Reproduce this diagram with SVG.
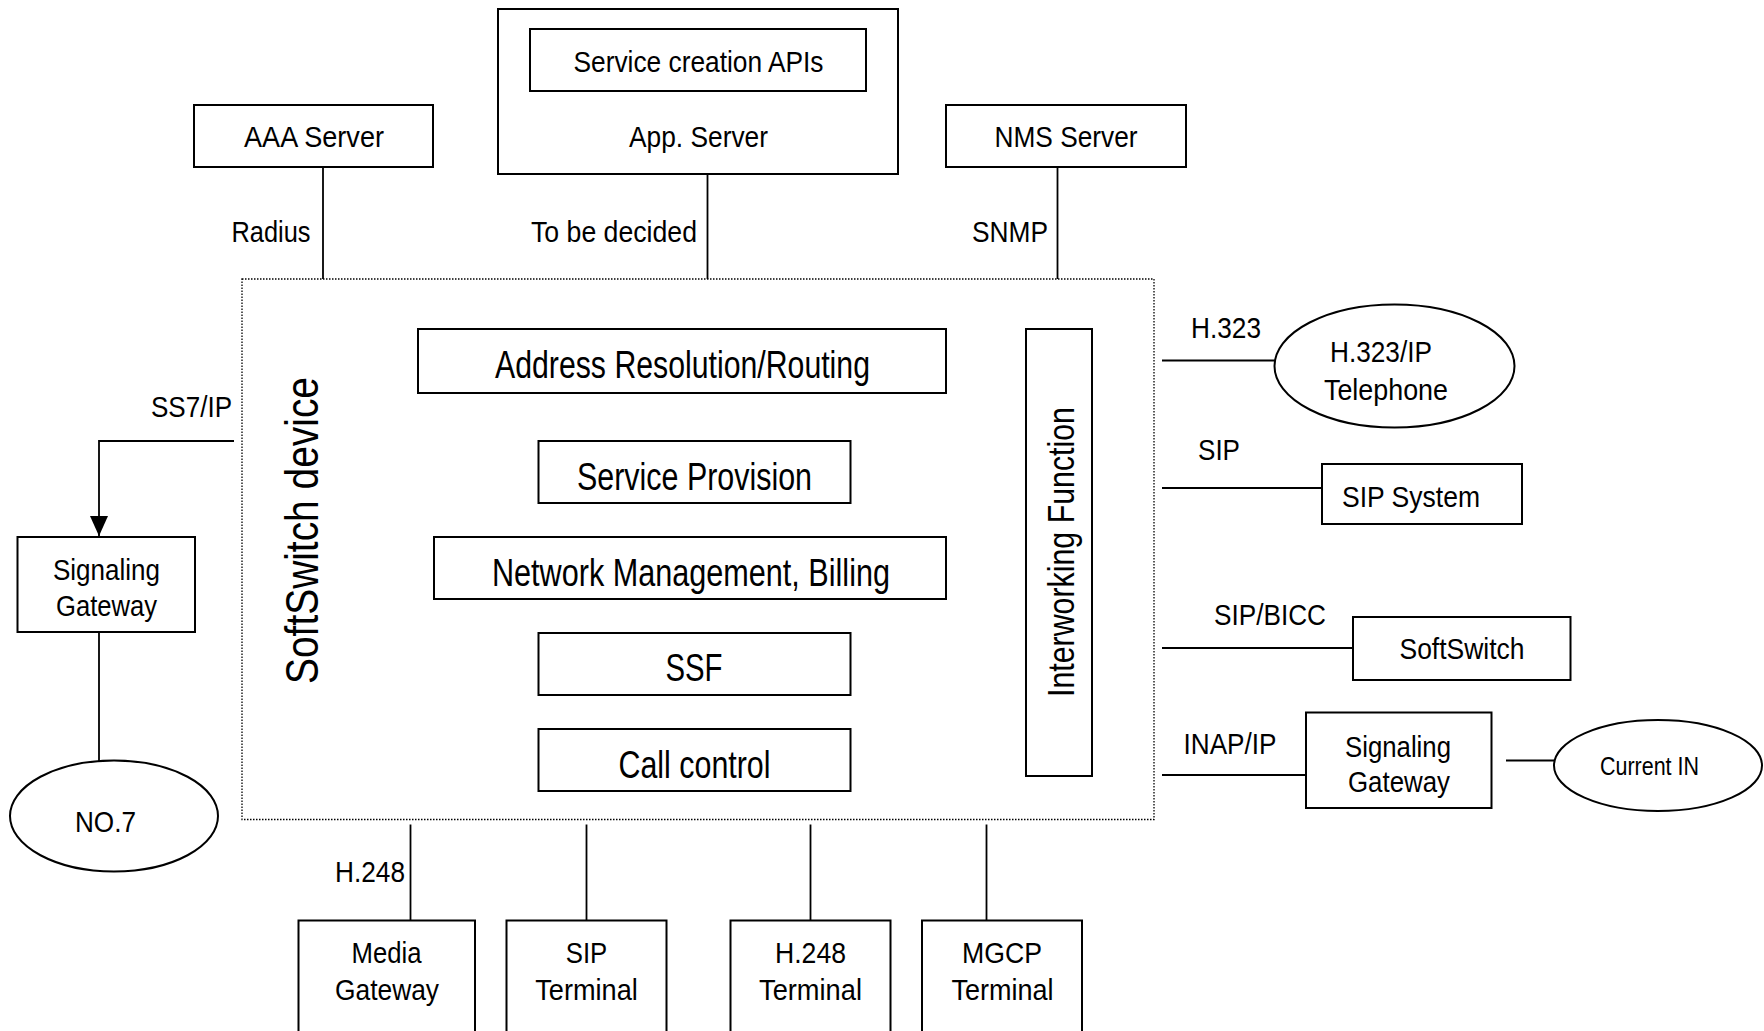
<svg xmlns="http://www.w3.org/2000/svg" width="1764" height="1031" viewBox="0 0 1764 1031">
  <defs>
    <marker id="arrow" viewBox="0 0 20 20" refX="20" refY="10" markerWidth="20" markerHeight="20" markerUnits="userSpaceOnUse" orient="auto">
      <path d="M0,1 L20,10 L0,19 Z" fill="#000"/>
    </marker>
    <style>
      .box { fill: #fff; stroke: #000; stroke-width: 2; }
      .oval { fill: #fff; stroke: #000; stroke-width: 2; }
      .frame { fill: none; stroke: #000; stroke-width: 1.3; stroke-dasharray: 1.5 1.5; }
      .wire { fill: none; stroke: #000; stroke-width: 1.8; }
      text { font-family: "Liberation Sans", Arial, sans-serif; fill: #000; }
      .lbl { font-size: 30px; text-anchor: middle; }
      .big { font-size: 38px; text-anchor: middle; }
      .sm { font-size: 25px; text-anchor: middle; }
      .rot { text-anchor: middle; }
    </style>
  </defs>
  <rect width="1764" height="1031" fill="#fff"/>

  <!-- connectors -->
  <g id="connectors">
    <line class="wire" x1="323" y1="166.5" x2="323" y2="279"/>
    <line class="wire" x1="707.5" y1="174" x2="707.5" y2="279"/>
    <line class="wire" x1="1057.5" y1="166.5" x2="1057.5" y2="279"/>
    <polyline class="wire" points="234,441 99,441 99,536" marker-end="url(#arrow)"/>
    <line class="wire" x1="99" y1="632" x2="99" y2="761"/>
    <line class="wire" x1="1162" y1="360.5" x2="1274.5" y2="360.5"/>
    <line class="wire" x1="1162" y1="488" x2="1322" y2="488"/>
    <line class="wire" x1="1162" y1="648" x2="1353" y2="648"/>
    <line class="wire" x1="1162" y1="775" x2="1305" y2="775"/>
    <line class="wire" x1="1506" y1="760.5" x2="1554" y2="760.5"/>
    <line class="wire" x1="410.5" y1="824.5" x2="410.5" y2="920"/>
    <line class="wire" x1="586.5" y1="824.5" x2="586.5" y2="920"/>
    <line class="wire" x1="810.5" y1="824.5" x2="810.5" y2="920"/>
    <line class="wire" x1="986.5" y1="824.5" x2="986.5" y2="920"/>
    <!-- interface labels -->
    <text class="lbl" x="271" y="241.5" textLength="79" lengthAdjust="spacingAndGlyphs">Radius</text>
    <text class="lbl" x="614" y="241.5" textLength="166" lengthAdjust="spacingAndGlyphs">To be decided</text>
    <text class="lbl" x="1010" y="241.5" textLength="76" lengthAdjust="spacingAndGlyphs">SNMP</text>
    <text class="lbl" x="191.5" y="416.5" textLength="81" lengthAdjust="spacingAndGlyphs">SS7/IP</text>
    <text class="lbl" x="1226" y="337.5" textLength="70" lengthAdjust="spacingAndGlyphs">H.323</text>
    <text class="lbl" x="1219" y="460" textLength="42" lengthAdjust="spacingAndGlyphs">SIP</text>
    <text class="lbl" x="1270" y="625" textLength="112" lengthAdjust="spacingAndGlyphs">SIP/BICC</text>
    <text class="lbl" x="1230" y="753.5" textLength="93" lengthAdjust="spacingAndGlyphs">INAP/IP</text>
    <text class="lbl" x="370" y="881.5" textLength="70" lengthAdjust="spacingAndGlyphs">H.248</text>
  </g>

  <!-- servers above the switch -->
  <g id="aaa-server">
    <rect class="box" x="194" y="105" width="239" height="62"/>
    <text class="lbl" x="314" y="147" textLength="140" lengthAdjust="spacingAndGlyphs">AAA Server</text>
  </g>
  <g id="app-server">
    <rect class="box" x="498" y="9" width="400" height="165"/>
    <text class="lbl" x="698.5" y="147" textLength="139" lengthAdjust="spacingAndGlyphs">App. Server</text>
  </g>
  <g id="service-creation-apis">
    <rect class="box" x="530" y="29" width="336" height="62"/>
    <text class="lbl" x="698.5" y="72" textLength="250" lengthAdjust="spacingAndGlyphs">Service creation APIs</text>
  </g>
  <g id="nms-server">
    <rect class="box" x="946" y="105" width="240" height="62"/>
    <text class="lbl" x="1066" y="147" textLength="143" lengthAdjust="spacingAndGlyphs">NMS Server</text>
  </g>

  <!-- softswitch device -->
  <g id="softswitch-device">
    <rect class="frame" x="242" y="279" width="912" height="540.5"/>
    <text class="rot" transform="translate(318,530.5) rotate(-90)" font-size="46" textLength="307" lengthAdjust="spacingAndGlyphs">SoftSwitch device</text>
  </g>
  <g id="address-resolution">
    <rect class="box" x="418" y="329" width="528" height="64"/>
    <text class="big" x="682.5" y="378" textLength="375" lengthAdjust="spacingAndGlyphs">Address Resolution/Routing</text>
  </g>
  <g id="service-provision">
    <rect class="box" x="538.5" y="441" width="312" height="62"/>
    <text class="big" x="694.5" y="489.5" textLength="235" lengthAdjust="spacingAndGlyphs">Service Provision</text>
  </g>
  <g id="network-management">
    <rect class="box" x="434" y="537" width="512" height="62"/>
    <text class="big" x="691" y="585.5" textLength="398" lengthAdjust="spacingAndGlyphs">Network Management, Billing</text>
  </g>
  <g id="ssf">
    <rect class="box" x="538.5" y="633" width="312" height="62"/>
    <text class="big" x="694" y="680.5" textLength="57" lengthAdjust="spacingAndGlyphs">SSF</text>
  </g>
  <g id="call-control">
    <rect class="box" x="538.5" y="729" width="312" height="62"/>
    <text class="big" x="694.5" y="777.5" textLength="152" lengthAdjust="spacingAndGlyphs">Call control</text>
  </g>
  <g id="interworking-function">
    <rect class="box" x="1026" y="329" width="66" height="447"/>
    <text class="rot" transform="translate(1074,552) rotate(-90)" font-size="36" textLength="290" lengthAdjust="spacingAndGlyphs">Interworking Function</text>
  </g>

  <!-- left side -->
  <g id="signaling-gateway-left">
    <rect class="box" x="17.5" y="537" width="177.5" height="95"/>
    <text class="lbl" x="106.5" y="580" textLength="107" lengthAdjust="spacingAndGlyphs">Signaling</text>
    <text class="lbl" x="106.5" y="615.5" textLength="101" lengthAdjust="spacingAndGlyphs">Gateway</text>
  </g>
  <g id="no7">
    <ellipse class="oval" cx="114" cy="816" rx="104" ry="55.5"/>
    <text class="lbl" x="105.5" y="832" textLength="61" lengthAdjust="spacingAndGlyphs">NO.7</text>
  </g>

  <!-- right side -->
  <g id="h323-telephone">
    <ellipse class="oval" cx="1394.5" cy="366" rx="120" ry="61.5"/>
    <text class="lbl" x="1381" y="362" textLength="102" lengthAdjust="spacingAndGlyphs">H.323/IP</text>
    <text class="lbl" x="1386" y="400" textLength="124" lengthAdjust="spacingAndGlyphs">Telephone</text>
  </g>
  <g id="sip-system">
    <rect class="box" x="1322" y="464" width="200" height="60"/>
    <text class="lbl" x="1411" y="507" textLength="138" lengthAdjust="spacingAndGlyphs">SIP System</text>
  </g>
  <g id="softswitch-peer">
    <rect class="box" x="1353" y="617" width="217.5" height="63"/>
    <text class="lbl" x="1462" y="659" textLength="125" lengthAdjust="spacingAndGlyphs">SoftSwitch</text>
  </g>
  <g id="signaling-gateway-right">
    <rect class="box" x="1306" y="712.5" width="185.5" height="95.5"/>
    <text class="lbl" x="1398" y="756.5" textLength="106" lengthAdjust="spacingAndGlyphs">Signaling</text>
    <text class="lbl" x="1399" y="791.5" textLength="102" lengthAdjust="spacingAndGlyphs">Gateway</text>
  </g>
  <g id="current-in">
    <ellipse class="oval" cx="1658" cy="765.5" rx="104" ry="45.5"/>
    <text class="sm" x="1649.5" y="774.5" textLength="99" lengthAdjust="spacingAndGlyphs">Current IN</text>
  </g>

  <!-- bottom terminals -->
  <g id="media-gateway">
    <rect class="box" x="298.5" y="920.5" width="176.5" height="130"/>
    <text class="lbl" x="386.5" y="962.5" textLength="70" lengthAdjust="spacingAndGlyphs">Media</text>
    <text class="lbl" x="387" y="1000" textLength="104" lengthAdjust="spacingAndGlyphs">Gateway</text>
  </g>
  <g id="sip-terminal">
    <rect class="box" x="506.5" y="920.5" width="160" height="130"/>
    <text class="lbl" x="586.5" y="962.5" textLength="41.5" lengthAdjust="spacingAndGlyphs">SIP</text>
    <text class="lbl" x="586.5" y="1000" textLength="102.5" lengthAdjust="spacingAndGlyphs">Terminal</text>
  </g>
  <g id="h248-terminal">
    <rect class="box" x="730.5" y="920.5" width="160" height="130"/>
    <text class="lbl" x="810.5" y="962.5" textLength="71" lengthAdjust="spacingAndGlyphs">H.248</text>
    <text class="lbl" x="810.5" y="1000" textLength="103" lengthAdjust="spacingAndGlyphs">Terminal</text>
  </g>
  <g id="mgcp-terminal">
    <rect class="box" x="922" y="920.5" width="160" height="130"/>
    <text class="lbl" x="1002" y="962.5" textLength="80" lengthAdjust="spacingAndGlyphs">MGCP</text>
    <text class="lbl" x="1002.5" y="1000" textLength="102" lengthAdjust="spacingAndGlyphs">Terminal</text>
  </g>
</svg>
